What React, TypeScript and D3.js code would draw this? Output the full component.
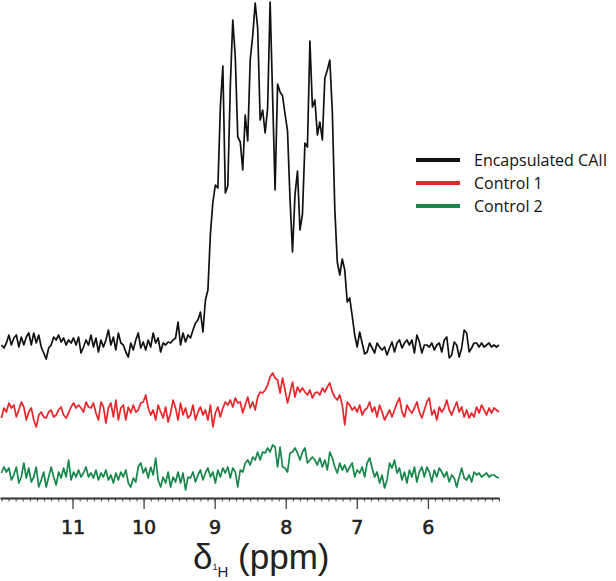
import React, { useEffect, useRef } from 'react';
import * as d3 from 'd3';

// 1H spectra sampled every 0.035 ppm from 12.0 ppm down to 5.0 ppm (arbitrary intensity units)
const ppmStart = 12.0;
const ppmStep = 0.035;

const encapsulated = [
  1, -2, 3, 11, 1, 8, 11, -1, 9, 1, 9, 13, 1, 13, 3, 11, -1, -7, -13, -2,
  1, 9, 6, 11, 4, 8, 1, 6, 3, 8, 1, 9, -7, -1, 6, 1, 11, -1, 8, -6,
  6, -1, 6, 16, 1, 9, -4, 13,
  3, 1, -6, -11, 3, -4, 6, 13, -2, 4, -4, 6, -1, 13, 3, 8, -6, 3, 1, 4,
  3, 6, 8, 24, 1, 13, 4, 11, 8, 16, 23, 26, 34, 14,
  46, 56, 112, 144, 161, 158, 239, 280, 153, 160,
  260, 326, 289, 209, 204, 176, 231, 205, 286, 310,
  343, 318, 226, 236, 213, 238, 344, 250, 156, 262,
  254, 250, 232, 215, 147, 94, 151, 175, 116, 132,
  203, 199, 305, 239, 246, 211, 224, 206, 268, 276,
  286, 235, 137, 84, 71, 87, 76, 44, 48, 30,
  11, -1, 14, 3, -8,
  -6, 3, -2, -7, 3, -1, -4, -1, -9, -2, 4, -6, 3, 6, -2, 3, 6, 1, 6, -7,
  11, 4, -7, 1, 1, -1, 3, -4, 1, 3, -6, 6, 9, -12, -9, 4, 1, -11, -2, 16,
  13, -6, -2, 3, 3, -1, 3, -1, 1, 3, -1, 1, -1, 1,
];

const control1 = [
  -8, 2, -2, 7, 2, 5, -7, 0, 8, 3, -10, -2, 2, -10, -17, -5, -2, -7, -8, -2,
  0, -7, -5, 0, 3, -5, -8, -3, 3, 7, 2, 5, 2, -2, 8, 3, 2, 7, -3, -10,
  8, 3, -13, 2, 7, -7, 10, -10, 2, 5, -10, 3, -3, 5, -2, 0, 7, 8, 15, 2,
  -5, 0, -10, 5, -2, -8, 3, -12, -3, 10, 2, -10, 7, -5, 2, -8, -5, 5, -10, -2,
  3, -5, 0, -10, 5, -17, -3, 3, -7, 2, 8, 5, 10, 3, 12, 7, 8, -3, 5, 13,
  2, 8, 0, 13, 18, 17, 20, 25, 33, 37, 32, 30, 17, 32, 20, 7, 17, 28, 13, 23,
  18, 22, 18, 15,
  20, 12, 17, 18, 15, 22, 18, 23, 27, 18, 13, 10, 15, 5, -15, 8, 5, 0, 3, -2,
  5, -5, 0, 2, 8, -2, 3, -7, 5, -2, -10, -5, 0, -7, 0, 7, 12, -2, -7, 5,
  0, -3, 2, 8, -2, -8, 0, 8, 12, -5, 0, -10, 3, -2, 2, 10, 0, -5, 2, 8,
  -2, 3, -7, 0, -8, -3, -7, 3, -3, 5, 0, -5, 2, -3, 2, 0, -2,
];

const control2 = [
  2, 8, 3, 7, -5, 0, 8, -8, -2, 12, -3, 7, -7, -2, 8, -12, -5, 3, -12, -2,
  8, -2, -10, 3, -3, 7, -2, 15, -5, 3, -2, 5, -2, 2, 8, -2, 2, -3, 5, -5,
  2, -2, 5, -5, 0, -8, 2, -5, 3, -2, 5, -8, -12, -3, -7, 8, 12, 2, 7, -3,
  8, 0, 17, -5, -12, -2, -8, 3, -12, -2, -7, 3, -8, 2, -15, -2, -3, 3, -7, 0,
  5, -5, 2, 7, -2, 3, -8, 5, -2, 7, 2, 8, -3, 7, 3, -12, 5, 3, 12, 15,
  10, 18, 15, 23, 15, 23, 22, 27, 23, 30, 28, 8, 28, 8, 7, 3, 22, 23, 27, 22,
  15, 23, 27, 12,
  15, 18, 15, 10, 17, 8, 15, 5, 23, 17, 8, 2, 12, 5, 10, 3, 8, 12, -2, 5,
  2, 8, -2, 12, 17, 7, -2, 3, -8, 0, -13, -5, 12, 7, 15, 2, 7, -5, 3, -8,
  5, -2, 8, -7, 3, 8, -2, 8, 3, -7, 5, -2, 7, 3, -2, 3, -7, 0, -3, -12,
  -2, 7, -3, -5, 0, -7, 3, 0, 2, -2, 0, 2, -2, 0, 0, -2, -3,
];

const majorTicks = [11, 10, 9, 8, 7, 6];
const legendLabels = ['Encapsulated CAII', 'Control 1', 'Control 2'];
const seriesColors = ['#111111', '#e8262b', '#17874a'];
const seriesOffsets = [0, -64, -129];

const App = () => {
  const svgRef = useRef<SVGSVGElement>(null);

  useEffect(() => {
    const svg = d3.select(svgRef.current);
    svg.selectAll('*').remove();

    const axisY = 498;

    const ppm = encapsulated.map((_, i) => ppmStart - i * ppmStep);

    const x = d3.scaleLinear().domain([12.02, 5.0]).range([0, 499]);
    const y = d3.scaleLinear().domain([0, 344]).range([346, 2]);

    const series = [encapsulated, control1, control2];

    // stacked spectra
    series.forEach((values, s) => {
      const line = d3.line<number>()
        .x((_, i) => x(ppm[i]))
        .y(d => y(d + seriesOffsets[s]));
      svg.append('path')
        .datum(values)
        .attr('d', line)
        .attr('fill', 'none')
        .attr('stroke', seriesColors[s])
        .attr('stroke-width', 1.7)
        .attr('stroke-linejoin', 'round');
    });

    // minor ticks every 0.1 ppm
    const minor = d3.range(50, 121).map(v => v / 10);
    svg.append('g')
      .attr('transform', `translate(0,${axisY})`)
      .call(d3.axisBottom(x).tickValues(minor).tickSize(3.5).tickSizeOuter(0).tickFormat(() => ''))
      .call(g => g.select('.domain').remove())
      .selectAll('line')
      .attr('stroke', '#444')
      .attr('stroke-width', 1);

    // major ticks and labels
    const axis = svg.append('g')
      .attr('transform', `translate(0,${axisY})`)
      .call(d3.axisBottom(x).tickValues(majorTicks).tickSize(11).tickSizeOuter(0).tickPadding(12).tickFormat(d3.format('d')));
    axis.select('.domain')
      .attr('stroke', '#333')
      .attr('stroke-width', 2);
    axis.selectAll('line')
      .attr('stroke', '#444')
      .attr('stroke-width', 1.3);
    axis.selectAll('text')
      .attr('fill', '#222')
      .attr('stroke', '#222')
      .attr('stroke-width', 0.6)
      .style('font-family', '"DejaVu Sans", sans-serif')
      .style('font-size', '19px');

    // axis title: δ with ¹H subscript
    const title = svg.append('text')
      .attr('x', 193)
      .attr('y', 569)
      .attr('fill', '#222')
      .style('font-family', '"Liberation Sans", Arial, sans-serif')
      .style('font-size', '35px');
    title.append('tspan').text('δ');
    title.append('tspan').attr('dy', 1).style('font-size', '9px').text('1');
    title.append('tspan').attr('dy', 7).style('font-size', '15px').text('H');
    title.append('tspan').attr('dy', -8).text(' (ppm)');

    // legend
    const legend = svg.append('g');
    legendLabels.forEach((label, i) => {
      const ly = 160 + i * 23;
      legend.append('line')
        .attr('x1', 416).attr('x2', 460)
        .attr('y1', ly).attr('y2', ly)
        .attr('stroke', seriesColors[i])
        .attr('stroke-width', 4);
      legend.append('text')
        .attr('x', 474)
        .attr('y', ly + 5.5)
        .attr('fill', '#111')
        .style('font-family', '"Open Sans", sans-serif')
        .style('font-size', '16px')
        .text(label);
    });
  }, []);

  return (
    <svg ref={svgRef} width={616} height={581} style={{ position: 'absolute', left: 0, top: 0, background: '#fff' }} />
  );
};

export default App;
